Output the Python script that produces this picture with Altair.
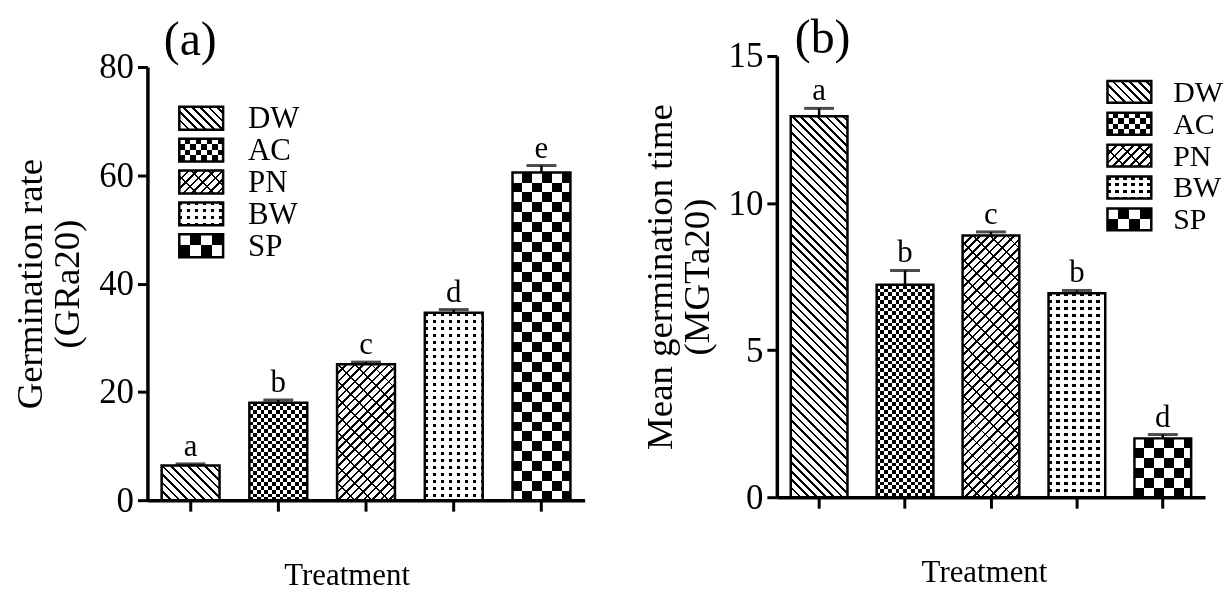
import math
import altair as alt
import pandas as pd

# ---------------- data ----------------
treatments = ["DW", "AC", "PN", "BW", "SP"]
gr_mean = [6.4, 18.0, 25.1, 34.6, 60.5]
gr_err = [0.3, 0.5, 0.4, 0.6, 1.3]
gr_letters = ["a", "b", "c", "d", "e"]
mgt_mean = [12.95, 7.22, 8.9, 6.93, 2.0]
mgt_err = [0.27, 0.49, 0.12, 0.1, 0.13]
mgt_letters = ["a", "b", "c", "b", "d"]
gr_ticks = [0, 20, 40, 60, 80]
mgt_ticks = [0, 5, 10, 15]
panel_labels = ["(a)", "(b)"]
y_titles = [["Germination rate", "(GRa20)"], ["Mean germination time", "(MGTa20)"]]
x_title = "Treatment"

FONT = "Liberation Serif"
INK = "#000000"
PAPER = "#ffffff"


# ---------------- pattern helpers (linear gradients with hard stops) ----------------
def stripe_stops(total, period, line, ink=INK, paper=PAPER, phase=0.0):
    bounds = []
    k = -1
    while k * period - phase <= total:
        for b in (k * period - phase, k * period - phase + line):
            if 0 < b < total:
                bounds.append(b)
        k += 1
    bounds.sort()

    def is_ink(q):
        return ((q + phase) % period) < line

    cur = is_ink(1e-6)
    stops = [(0.0, ink if cur else paper)]
    for b in bounds:
        stops.append((b / total, ink if cur else paper))
        cur = is_ink(b + 1e-6)
        stops.append((b / total, ink if cur else paper))
    stops.append((1.0, ink if cur else paper))
    return [alt.GradientStop(offset=round(o, 6), color=c) for o, c in stops]


def g_vertical(w, h, period, line, **kw):
    return alt.Gradient(gradient="linear", x1=0, y1=0, x2=1, y2=0,
                        stops=stripe_stops(w, period, line, **kw))


def g_horizontal(w, h, period, line, **kw):
    return alt.Gradient(gradient="linear", x1=0, y1=0, x2=0, y2=1,
                        stops=stripe_stops(h, period, line, **kw))


def g_back(w, h, period, line, **kw):  # "\" hatching
    s = (w + h) / (w * w + h * h)
    return alt.Gradient(gradient="linear", x1=0, y1=1, x2=w * s, y2=1 - h * s,
                        stops=stripe_stops(w + h, period, line, **kw))


def g_fwd(w, h, period, line, **kw):  # "/" hatching
    s = (w + h) / (w * w + h * h)
    return alt.Gradient(gradient="linear", x1=0, y1=0, x2=w * s, y2=h * s,
                        stops=stripe_stops(w + h, period, line, **kw))


def pattern(name, w, h, small=False):
    c = 3.8 if not small else 5.5
    sp = 10.0 if not small else 11.0
    if name == "DW":
        return [(g_back(w, h, 8.5, 2.6), None)]
    if name == "AC":
        return [(g_vertical(w, h, 2 * c, c), None),
                (g_horizontal(w, h, 2 * c, c, ink=PAPER, paper=INK), "difference")]
    if name == "PN":
        return [(g_fwd(w, h, 8.5, 2.6), None),
                (g_back(w, h, 17.0, 1.8), "multiply")]
    if name == "BW":
        return [(g_vertical(w, h, 8.0, 3.2), None),
                (g_horizontal(w, h, 7.0, 3.0), "lighten")]
    if name == "SP":
        return [(g_vertical(w, h, 2 * sp, sp), None),
                (g_horizontal(w, h, 2 * sp, sp, ink=PAPER, paper=INK), "difference")]


# ---------------- panel builder ----------------
def make_panel(means, errs, letters, ticks, ymax, width, height, yrange_top,
               ytitle, plabel, plabel_xy, legend_x, legend_tops, legend_h,
               legend_label_x, legend_font, title_x):
    df = pd.DataFrame({
        "treatment": treatments,
        "mean": means,
        "top": [m + e for m, e in zip(means, errs)],
        "letter": letters,
    })
    pad_inner, pad_outer = 0.34, 0.162
    step = width / (len(treatments) - pad_inner + 2 * pad_outer)
    bw = step * (1 - pad_inner)
    ppu = (height - yrange_top) / ymax

    xaxis = alt.Axis(labels=False, title=x_title, titleFontSize=31, titleFont=FONT,
                     titleFontWeight="normal", titleColor=INK, titlePadding=48,
                     titleX=title_x, tickSize=11, tickWidth=3, tickColor=INK,
                     domainWidth=3.5, domainColor=INK, grid=False)
    yaxis = alt.Axis(values=ticks, title=ytitle, titleFontSize=37, titleFont=FONT,
                     titleFontWeight="normal", titleColor=INK, titleLineHeight=37,
                     titlePadding=12, labelFontSize=35, labelFont=FONT, labelColor=INK,
                     labelPadding=4, tickSize=10, tickWidth=3, tickColor=INK,
                     domainWidth=3.5, domainColor=INK, grid=False)
    X = alt.X("treatment:N", sort=treatments,
              scale=alt.Scale(domain=treatments, paddingInner=pad_inner, paddingOuter=pad_outer),
              axis=xaxis)

    def Y(field):
        return alt.Y(field, type="quantitative",
                     scale=alt.Scale(domain=[0, ymax], range=[height, yrange_top], nice=False, zero=True),
                     axis=yaxis)

    layers = []
    base = alt.Chart(df)
    # patterned bars
    for name, m in zip(treatments, means):
        for fill, blend in pattern(name, bw, m * ppu):
            kw = {"fill": fill, "strokeWidth": 0}
            if blend:
                kw["blend"] = blend
            layers.append(base.transform_filter(alt.datum.treatment == name)
                          .mark_bar(**kw).encode(x=X, y=Y("mean")))
    # outlines
    layers.append(base.mark_bar(fillOpacity=0, stroke=INK, strokeWidth=2.5)
                  .encode(x=X, y=Y("mean")))
    # error bars (upper)
    layers.append(base.mark_rule(color=INK, strokeWidth=2.5)
                  .encode(x=X, y=Y("mean"), y2="top:Q"))
    layers.append(base.mark_tick(color=INK, size=30, thickness=3)
                  .encode(x=X, y=Y("top")))
    # letters
    layers.append(base.mark_text(font=FONT, fontSize=31, color=INK, baseline="alphabetic", dy=-8)
                  .encode(x=X, y=Y("top"), text="letter:N"))
    # legend
    lw = 44
    for name, ytop in zip(treatments, legend_tops):
        for fill, blend in pattern(name, lw, legend_h, small=True):
            kw = {"fill": fill, "strokeWidth": 0}
            if blend:
                kw["blend"] = blend
            layers.append(base.transform_filter(alt.datum.treatment == name)
                          .mark_rect(**kw)
                          .encode(x=alt.value(legend_x), x2=alt.value(legend_x + lw),
                                  y=alt.value(ytop), y2=alt.value(ytop + legend_h)))
        layers.append(base.transform_filter(alt.datum.treatment == name)
                      .mark_rect(fillOpacity=0, stroke=INK, strokeWidth=2.5)
                      .encode(x=alt.value(legend_x), x2=alt.value(legend_x + lw),
                              y=alt.value(ytop), y2=alt.value(ytop + legend_h)))
        layers.append(base.transform_filter(alt.datum.treatment == name)
                      .mark_text(font=FONT, fontSize=legend_font, color=INK, align="left",
                                 baseline="middle", dy=1)
                      .encode(x=alt.value(legend_label_x), y=alt.value(ytop + legend_h / 2),
                              text="treatment:N"))
    # panel label
    layers.append(alt.Chart(pd.DataFrame({"t": [plabel]}))
                  .mark_text(font=FONT, fontSize=48, color=INK, baseline="middle")
                  .encode(x=alt.value(plabel_xy[0]), y=alt.value(plabel_xy[1]), text="t:N"))

    return alt.layer(*layers).properties(width=width, height=height)


panel_a = make_panel(gr_mean, gr_err, gr_letters, gr_ticks, 80, 439, 446, 11,
                     y_titles[0], panel_labels[0], (43, -15),
                     32, [51, 83, 115, 147, 179], 23, 101, 31, 200)
panel_b = make_panel(mgt_mean, mgt_err, mgt_letters, mgt_ticks, 15, 430, 443, 0,
                     y_titles[1], panel_labels[1], (46, -17),
                     332, [25, 57, 89, 121, 153], 22, 398, 30, 208)

chart = (alt.hconcat(panel_a, panel_b, spacing=57)
         .properties(padding={"left": 4, "top": 6, "right": 0, "bottom": 4}, background="white")
         .configure(font=FONT)
         .configure_view(stroke=None))

chart.save("out.html", embed_options={"renderer": "svg", "actions": False})
